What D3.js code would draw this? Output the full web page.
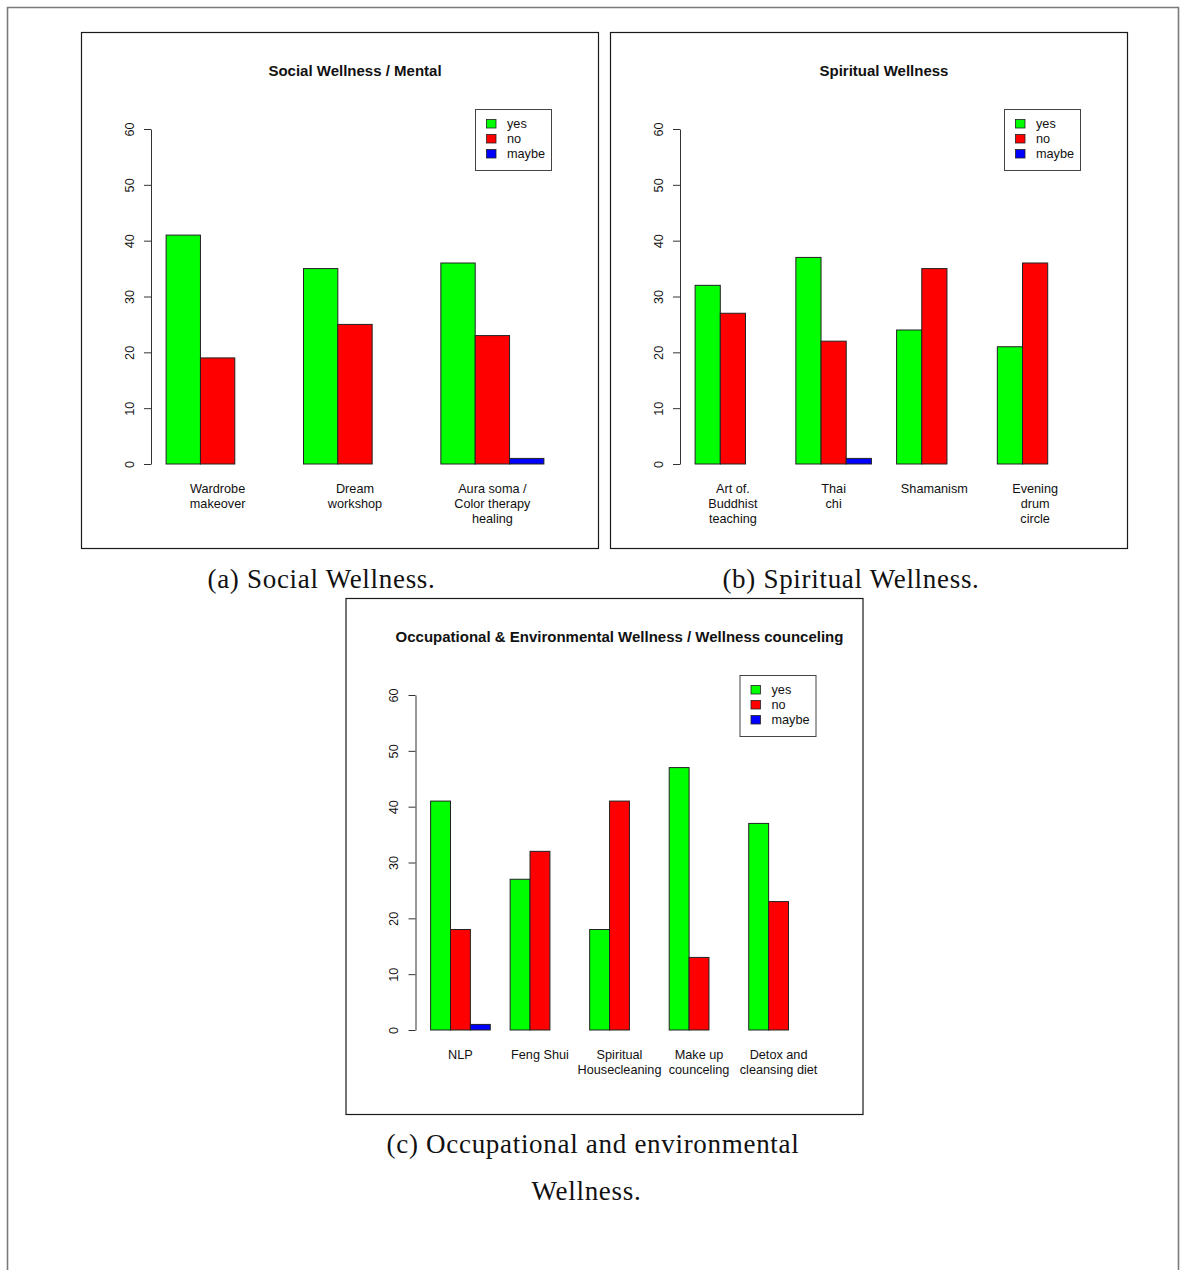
<!DOCTYPE html>
<html>
<head>
<meta charset="utf-8">
<script src="https://cdn.jsdelivr.net/npm/d3@7"></script>
<style>
  html, body { margin: 0; padding: 0; background: #fff; }
  svg { display: block; }
  .sans { font-family: "Liberation Sans", Arial, Helvetica, sans-serif; }
  .serif { font-family: "Liberation Serif", "Times New Roman", serif; }
</style>
</head>
<body>
<script>
// Shared series definition
const seriesNames = ["yes", "no", "maybe"];
const seriesColors = ["#00ff00", "#ff0000", "#0000ff"];
const yTicks = [0, 10, 20, 30, 40, 50, 60];

// (a) Social wellness
const socialTitle = "Social Wellness / Mental";
const socialCategories = [["Wardrobe", "makeover"], ["Dream", "workshop"], ["Aura soma /", "Color therapy", "healing"]];
const socialYes = [41, 35, 36];
const socialNo = [19, 25, 23];
const socialMaybe = [0, 0, 1];

// (b) Spiritual wellness
const spiritualTitle = "Spiritual Wellness";
const spiritualCategories = [["Art of.", "Buddhist", "teaching"], ["Thai", "chi"], ["Shamanism"], ["Evening", "drum", "circle"]];
const spiritualYes = [32, 37, 24, 21];
const spiritualNo = [27, 22, 35, 36];
const spiritualMaybe = [0, 1, 0, 0];

// (c) Occupational & environmental wellness
const occupationalTitle = "Occupational & Environmental Wellness / Wellness counceling";
const occupationalCategories = [["NLP"], ["Feng Shui"], ["Spiritual", "Housecleaning"], ["Make up", "counceling"], ["Detox and", "cleansing diet"]];
const occupationalYes = [41, 27, 18, 47, 37];
const occupationalNo = [18, 32, 41, 13, 23];
const occupationalMaybe = [1, 0, 0, 0, 0];

// Captions
const captionA = "(a) Social Wellness.";
const captionB = "(b) Spiritual Wellness.";
const captionC = ["(c) Occupational and environmental", "Wellness."];

const W = 1184, H = 1270;
const svg = d3.select("body").append("svg").attr("width", W).attr("height", H);

// Page frame
svg.append("path")
  .attr("d", `M7.5,${H} L7.5,7.5 L1178.5,7.5 L1178.5,${H}`)
  .attr("fill", "none").attr("stroke", "#7a7a7a").attr("stroke-width", 1.6);

const PANEL_W = 517, PANEL_H = 516;
const TEXT_COLOR = "#111";

function drawPanel(px, py, title, categories, yes, no, maybe) {
  const g = svg.append("g").attr("class", "sans").attr("transform", `translate(${px},${py})`);
  g.append("rect").attr("x", 0.5).attr("y", 0.5).attr("width", PANEL_W).attr("height", PANEL_H)
    .attr("fill", "#fff").attr("stroke", "#1a1a1a").attr("stroke-width", 1.2);

  const values = [yes, no, maybe];
  const nGroups = categories.length;
  const nSeries = seriesNames.length;
  const unitsTotal = (nSeries + 1) * nGroups;      // one gap unit before every group
  const ext = 0.04 * (unitsTotal - 1);
  const x = d3.scaleLinear().domain([1 - ext, unitsTotal + ext]).range([70, 478]);
  const y = d3.scaleLinear().domain([0, 60]).range([432, 97]);

  // title
  g.append("text").attr("x", (x.range()[0] + x.range()[1]) / 2).attr("y", 44)
    .attr("text-anchor", "middle").attr("font-weight", "bold").attr("font-size", 15)
    .attr("fill", TEXT_COLOR).text(title);

  // bars
  const bars = [];
  categories.forEach((c, gi) => {
    values.forEach((vals, si) => {
      const left = 1 + gi * (nSeries + 1) + si;
      bars.push({ left, value: vals[gi], color: seriesColors[si] });
    });
  });
  g.append("g").selectAll("rect").data(bars).join("rect")
    .attr("x", d => x(d.left))
    .attr("width", d => x(d.left + 1) - x(d.left))
    .attr("y", d => y(d.value))
    .attr("height", d => y(0) - y(d.value))
    .attr("fill", d => d.color)
    .attr("stroke", "#222").attr("stroke-width", 1);

  // y axis
  const axis = g.append("g").attr("transform", `translate(${x.range()[0]},0)`)
    .call(d3.axisLeft(y).tickValues(yTicks).tickSize(7).tickSizeOuter(0));
  axis.select(".domain").attr("stroke", "#333");
  axis.selectAll(".tick line").attr("stroke", "#333");
  axis.selectAll(".tick text")
    .attr("transform", "rotate(-90)")
    .attr("x", 0).attr("y", -22).attr("dy", "0.36em")
    .attr("text-anchor", "middle")
    .attr("font-family", "Liberation Sans, Arial, sans-serif")
    .attr("font-size", 12.7).attr("fill", TEXT_COLOR);

  // category labels
  categories.forEach((lines, gi) => {
    const cx = x(1 + gi * (nSeries + 1) + nSeries / 2);
    const t = g.append("text").attr("text-anchor", "middle").attr("font-size", 12.7).attr("fill", TEXT_COLOR);
    lines.forEach((ln, li) => {
      t.append("tspan").attr("x", cx).attr("y", 460.5 + li * 15).text(ln);
    });
  });

  // legend
  const lg = g.append("g").attr("transform", "translate(394,77)");
  lg.append("rect").attr("x", 0.5).attr("y", 0.5).attr("width", 76).attr("height", 61)
    .attr("fill", "#fff").attr("stroke", "#444").attr("stroke-width", 1);
  seriesNames.forEach((name, i) => {
    const cy = 15 + i * 15;
    lg.append("rect").attr("x", 11.5).attr("y", cy - 4.5).attr("width", 9.5).attr("height", 8.5)
      .attr("fill", seriesColors[i]).attr("stroke", "#222").attr("stroke-width", 0.8);
    lg.append("text").attr("x", 32).attr("y", cy).attr("dy", "0.35em")
      .attr("font-size", 12.7).attr("fill", TEXT_COLOR).text(name);
  });
}

drawPanel(81, 32, socialTitle, socialCategories, socialYes, socialNo, socialMaybe);
drawPanel(610, 32, spiritualTitle, spiritualCategories, spiritualYes, spiritualNo, spiritualMaybe);
drawPanel(345.5, 598, occupationalTitle, occupationalCategories, occupationalYes, occupationalNo, occupationalMaybe);

// captions
function caption(text, cx, baseline) {
  svg.append("text").attr("class", "serif").attr("x", cx).attr("y", baseline)
    .attr("text-anchor", "middle").attr("font-size", 27).attr("letter-spacing", 0.7)
    .attr("fill", "#111").text(text);
}
caption(captionA, 321.5, 588);
caption(captionB, 851, 588);
caption(captionC[0], 593, 1153);
caption(captionC[1], 586.5, 1200);
</script>
</body>
</html>
